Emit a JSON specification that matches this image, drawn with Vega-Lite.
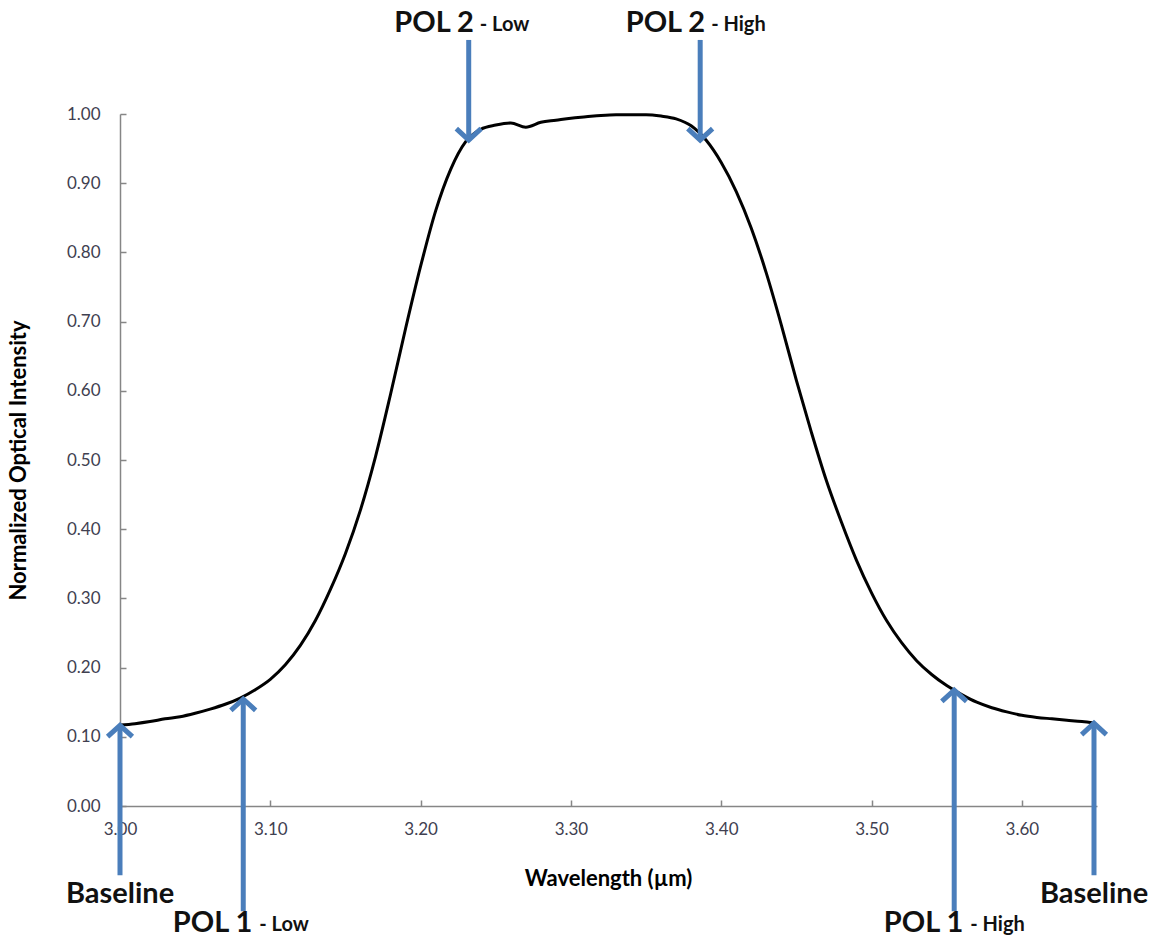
{
  "$schema": "https://vega.github.io/schema/vega-lite/v6.json",
  "width": 977,
  "height": 692,
  "autosize": {"type": "none"},
  "padding": {"left": 120, "top": 114, "right": 62, "bottom": 132},
  "background": "white",
  "config": {"view": {"stroke": null}, "font": "Lato"},
  "datasets": {
    "curve": [
      {"wl": 3.000, "val": 0.117}, {"wl": 3.010, "val": 0.119}, {"wl": 3.020, "val": 0.122},
      {"wl": 3.030, "val": 0.126}, {"wl": 3.040, "val": 0.129}, {"wl": 3.050, "val": 0.134},
      {"wl": 3.060, "val": 0.140}, {"wl": 3.070, "val": 0.147}, {"wl": 3.080, "val": 0.156},
      {"wl": 3.090, "val": 0.168}, {"wl": 3.100, "val": 0.183}, {"wl": 3.110, "val": 0.204},
      {"wl": 3.120, "val": 0.232}, {"wl": 3.130, "val": 0.268}, {"wl": 3.140, "val": 0.313},
      {"wl": 3.150, "val": 0.365}, {"wl": 3.160, "val": 0.428}, {"wl": 3.170, "val": 0.505},
      {"wl": 3.180, "val": 0.595}, {"wl": 3.190, "val": 0.690}, {"wl": 3.200, "val": 0.780},
      {"wl": 3.210, "val": 0.860}, {"wl": 3.220, "val": 0.920}, {"wl": 3.230, "val": 0.960},
      {"wl": 3.240, "val": 0.978}, {"wl": 3.250, "val": 0.984}, {"wl": 3.260, "val": 0.987},
      {"wl": 3.270, "val": 0.981}, {"wl": 3.280, "val": 0.988}, {"wl": 3.290, "val": 0.991},
      {"wl": 3.300, "val": 0.994}, {"wl": 3.310, "val": 0.996}, {"wl": 3.320, "val": 0.998},
      {"wl": 3.330, "val": 0.999}, {"wl": 3.340, "val": 0.999}, {"wl": 3.350, "val": 0.999},
      {"wl": 3.360, "val": 0.997}, {"wl": 3.370, "val": 0.993}, {"wl": 3.380, "val": 0.983},
      {"wl": 3.390, "val": 0.962}, {"wl": 3.400, "val": 0.930}, {"wl": 3.410, "val": 0.888},
      {"wl": 3.420, "val": 0.835}, {"wl": 3.430, "val": 0.770}, {"wl": 3.440, "val": 0.695},
      {"wl": 3.450, "val": 0.615}, {"wl": 3.460, "val": 0.540}, {"wl": 3.470, "val": 0.470},
      {"wl": 3.480, "val": 0.410}, {"wl": 3.490, "val": 0.355}, {"wl": 3.500, "val": 0.308},
      {"wl": 3.510, "val": 0.268}, {"wl": 3.520, "val": 0.236}, {"wl": 3.530, "val": 0.210},
      {"wl": 3.540, "val": 0.190}, {"wl": 3.550, "val": 0.174}, {"wl": 3.560, "val": 0.161},
      {"wl": 3.570, "val": 0.150}, {"wl": 3.580, "val": 0.142}, {"wl": 3.590, "val": 0.136},
      {"wl": 3.600, "val": 0.131}, {"wl": 3.610, "val": 0.128}, {"wl": 3.620, "val": 0.126},
      {"wl": 3.630, "val": 0.124}, {"wl": 3.640, "val": 0.122}, {"wl": 3.648, "val": 0.120}
    ],
    "marks": [
      {"label": "Baseline", "suffix": "", "wl": 3.000, "tail": -0.100, "tip": 0.117, "dir": "up", "side": "bottom"},
      {"label": "POL 1", "suffix": "- Low", "wl": 3.082, "tail": -0.152, "tip": 0.155, "dir": "up", "side": "bottom"},
      {"label": "POL 1", "suffix": "- High", "wl": 3.555, "tail": -0.152, "tip": 0.168, "dir": "up", "side": "bottom"},
      {"label": "Baseline", "suffix": "", "wl": 3.648, "tail": -0.100, "tip": 0.120, "dir": "up", "side": "bottom"},
      {"label": "POL 2", "suffix": "- Low", "wl": 3.232, "tail": 1.107, "tip": 0.962, "dir": "down", "side": "top"},
      {"label": "POL 2", "suffix": "- High", "wl": 3.386, "tail": 1.107, "tip": 0.962, "dir": "down", "side": "top"}
    ]
  },
  "layer": [
    {
      "data": {"name": "curve"},
      "mark": {"type": "line", "color": "black", "strokeWidth": 3, "interpolate": "monotone"},
      "encoding": {
        "x": {
          "field": "wl", "type": "quantitative",
          "scale": {"domain": [3.0, 3.65], "nice": false, "zero": false},
          "axis": {
            "title": "Wavelength (µm)",
            "values": [3.0, 3.1, 3.2, 3.3, 3.4, 3.5, 3.6],
            "format": ".2f", "grid": false,
            "domainColor": "#868686", "domainWidth": 1.5,
            "tickColor": "#868686", "tickWidth": 1.5, "tickSize": -6,
            "labelPadding": 21, "labelFontSize": 17, "labelColor": "#404050",
            "labelFont": "Lato", "labelFlush": false, "labelOverlap": false,
            "titleFont": "Lato", "titleFontSize": 22, "titleFontWeight": "bold", "titleColor": "black",
            "titleX": 488, "titleY": 72, "titleBaseline": "middle", "titleAlign": "center"
          }
        },
        "y": {
          "field": "val", "type": "quantitative",
          "scale": {"domain": [0, 1], "nice": false, "zero": false},
          "axis": {
            "title": "Normalized Optical Intensity",
            "values": [0, 0.1, 0.2, 0.3, 0.4, 0.5, 0.6, 0.7, 0.8, 0.9, 1.0],
            "format": ".2f", "grid": false,
            "domainColor": "#868686", "domainWidth": 1.5,
            "tickColor": "#868686", "tickWidth": 1.5, "tickSize": -6,
            "labelPadding": 26, "labelFontSize": 17, "labelColor": "#404050",
            "labelFont": "Lato", "labelFlush": false, "labelOverlap": false,
            "titleFont": "Lato", "titleFontSize": 22, "titleFontWeight": "bold", "titleColor": "black",
            "titleX": -102, "titleY": 346, "titleBaseline": "middle", "titleAngle": -90, "titleAlign": "center"
          }
        }
      }
    },
    {
      "data": {"name": "marks"},
      "mark": {"type": "rule", "color": "#4a7ebb", "strokeWidth": 5},
      "encoding": {
        "x": {"field": "wl", "type": "quantitative"},
        "y": {"field": "tail", "type": "quantitative"},
        "y2": {"field": "tip"}
      }
    },
    {
      "data": {"name": "marks"},
      "mark": {"type": "point", "filled": false, "strokeWidth": 5, "color": "#4a7ebb", "opacity": 1, "size": 850, "strokeJoin": "miter"},
      "encoding": {
        "x": {"field": "wl", "type": "quantitative"},
        "y": {"field": "tip", "type": "quantitative"},
        "shape": {
          "field": "dir", "type": "nominal",
          "scale": {"domain": ["up", "down"], "range": ["M-0.85,0.8L0,0.02L0.85,0.8", "M-0.85,-0.8L0,-0.02L0.85,-0.8"]},
          "legend": null
        }
      }
    },
    {
      "data": {"name": "marks"},
      "transform": [{"filter": "datum.suffix === ''"}],
      "mark": {"type": "text", "fontSize": 29, "fontWeight": "bold", "font": "Lato", "color": "#111", "align": "center", "baseline": "middle", "dy": 19},
      "encoding": {
        "x": {"field": "wl", "type": "quantitative"},
        "y": {"field": "tail", "type": "quantitative"},
        "text": {"field": "label"}
      }
    },
    {
      "data": {"name": "marks"},
      "transform": [{"filter": "datum.suffix !== '' && datum.side === 'bottom'"}],
      "mark": {"type": "text", "fontSize": 29, "fontWeight": "bold", "font": "Lato", "color": "#111", "align": "right", "baseline": "middle", "dx": 9, "dy": 12},
      "encoding": {
        "x": {"field": "wl", "type": "quantitative"},
        "y": {"field": "tail", "type": "quantitative"},
        "text": {"field": "label"}
      }
    },
    {
      "data": {"name": "marks"},
      "transform": [{"filter": "datum.suffix !== '' && datum.side === 'bottom'"}],
      "mark": {"type": "text", "fontSize": 20, "fontWeight": "bold", "font": "Lato", "color": "#111", "align": "left", "baseline": "middle", "dx": 16, "dy": 14},
      "encoding": {
        "x": {"field": "wl", "type": "quantitative"},
        "y": {"field": "tail", "type": "quantitative"},
        "text": {"field": "suffix"}
      }
    },
    {
      "data": {"name": "marks"},
      "transform": [{"filter": "datum.side === 'top'"}],
      "mark": {"type": "text", "fontSize": 29, "fontWeight": "bold", "font": "Lato", "color": "#111", "align": "right", "baseline": "middle", "dx": 5, "dy": -17},
      "encoding": {
        "x": {"field": "wl", "type": "quantitative"},
        "y": {"field": "tail", "type": "quantitative"},
        "text": {"field": "label"}
      }
    },
    {
      "data": {"name": "marks"},
      "transform": [{"filter": "datum.side === 'top'"}],
      "mark": {"type": "text", "fontSize": 20, "fontWeight": "bold", "font": "Lato", "color": "#111", "align": "left", "baseline": "middle", "dx": 11, "dy": -15},
      "encoding": {
        "x": {"field": "wl", "type": "quantitative"},
        "y": {"field": "tail", "type": "quantitative"},
        "text": {"field": "suffix"}
      }
    }
  ]
}
